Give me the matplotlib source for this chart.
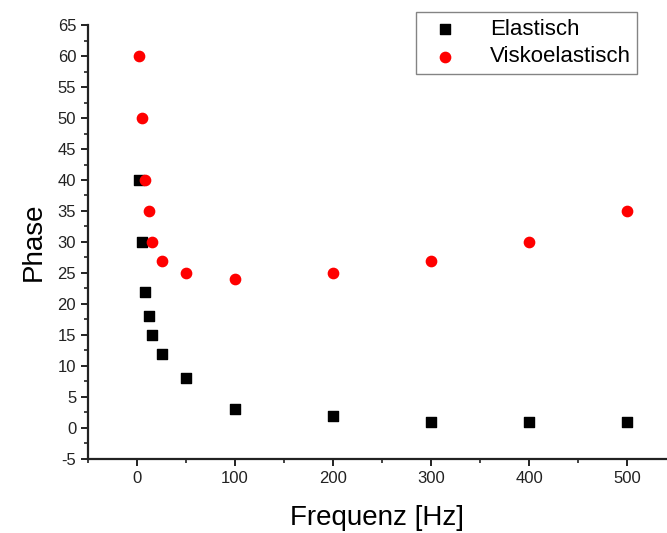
import matplotlib.pyplot as plt
from matplotlib.ticker import MultipleLocator

# frequency in Hz and measured phase for both materials
freq = [2, 5, 8, 12, 15, 25, 50, 100, 200, 300, 400, 500]
phase_elastic = [40, 30, 22, 18, 15, 12, 8, 3, 2, 1, 1, 1]
phase_visco = [60, 50, 40, 35, 30, 27, 25, 24, 25, 27, 30, 35]

plt.rcParams['font.family'] = ['Liberation Sans', 'DejaVu Sans']
plt.rcParams['axes.unicode_minus'] = False

fig = plt.figure(figsize=(6.67, 5.33), dpi=100)
ax = fig.add_axes([0.132, 0.139, 0.867, 0.814])

ax.scatter(freq, phase_elastic, marker='s', s=48, color='black', label='Elastisch', zorder=3)
ax.scatter(freq, phase_visco, marker='o', s=55, color='#ff0000', label='Viskoelastisch', zorder=3)

ax.set_xlim(-50, 540)
ax.set_ylim(-5, 65)
ax.xaxis.set_major_locator(MultipleLocator(100))
ax.xaxis.set_minor_locator(MultipleLocator(50))
ax.yaxis.set_major_locator(MultipleLocator(5))
ax.yaxis.set_minor_locator(MultipleLocator(2.5))

for side in ['top', 'right']:
    ax.spines[side].set_visible(False)
for side in ['left', 'bottom']:
    ax.spines[side].set_linewidth(1.6)
    ax.spines[side].set_color('#222222')

ax.tick_params(which='major', direction='out', length=5, width=1.4, labelsize=12, colors='#222222')
ax.tick_params(which='minor', direction='out', length=3, width=1.2, colors='#222222')

ax.set_xlabel('Frequenz [Hz]', fontsize=20, labelpad=14)
ax.set_ylabel('Phase', fontsize=20, labelpad=8)

leg = ax.legend(loc='upper right', bbox_to_anchor=(0.95, 1.03), fontsize=16, frameon=True,
                fancybox=False, edgecolor='#666666', handletextpad=1.0, borderpad=0.3,
                labelspacing=0.3, scatterpoints=1, borderaxespad=0)
leg.get_frame().set_linewidth(1.0)

fig.savefig('out.png', dpi=100)
